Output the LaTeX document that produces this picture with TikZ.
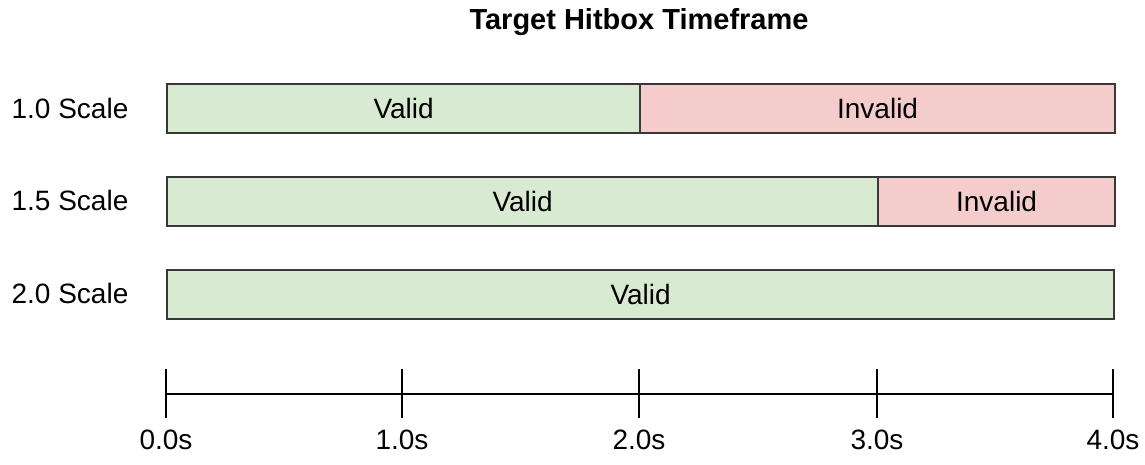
\documentclass[tikz,border=0pt]{standalone}
\usepackage{fontspec}
\setmainfont{Liberation Sans}
\usetikzlibrary{positioning}
\definecolor{validgreen}{HTML}{D9EAD3}
\definecolor{invalidred}{HTML}{F4CCCC}
\definecolor{edgegray}{HTML}{383838}

\begin{document}
\begin{tikzpicture}[x=1pt,y=-1pt,
  every node/.style={font=\fontsize{28}{32}\selectfont},
  bar/.style={draw=edgegray,line width=2.2pt,minimum height=49pt,inner sep=0pt,anchor=north west},
  valid/.style={bar,fill=validgreen},
  invalid/.style={bar,fill=invalidred}]
\useasboundingbox (0,0) rectangle (1145,465);
\node[font=\fontsize{29}{32}\selectfont\bfseries] (title) at (639,22) {Target Hitbox Timeframe};
% scale rows
\node (s10) at (70,108) {1.0 Scale};
\node (s15) at (70,200) {1.5 Scale};
\node (s20) at (70,293) {2.0 Scale};
\node[valid,minimum width=473pt] (v10) at (166,83) {Valid};
\node[invalid,minimum width=475pt] (i10) at (639,83) {Invalid};
\node[valid,minimum width=711pt] (v15) at (166,176) {Valid};
\node[invalid,minimum width=237pt] (i15) at (877,176) {Invalid};
\node[valid,minimum width=947pt] (v20) at (166,269) {Valid};
% time axis
\coordinate (t0) at (166,394);
\coordinate (t1) at (402,394);
\coordinate (t2) at (639,394);
\coordinate (t3) at (877,394);
\coordinate (t4) at (1113,394);
\draw[line width=1.5pt] (t0) -- (t4);
\foreach \t/\lab in {t0/0.0s,t1/1.0s,t2/2.0s,t3/3.0s,t4/4.0s} {
  \draw[line width=1.5pt] ([yshift=25pt]\t) -- ([yshift=-24pt]\t);
  \node (l\t) at ([yshift=-46pt]\t) {\lab};
}
\end{tikzpicture}
\end{document}
